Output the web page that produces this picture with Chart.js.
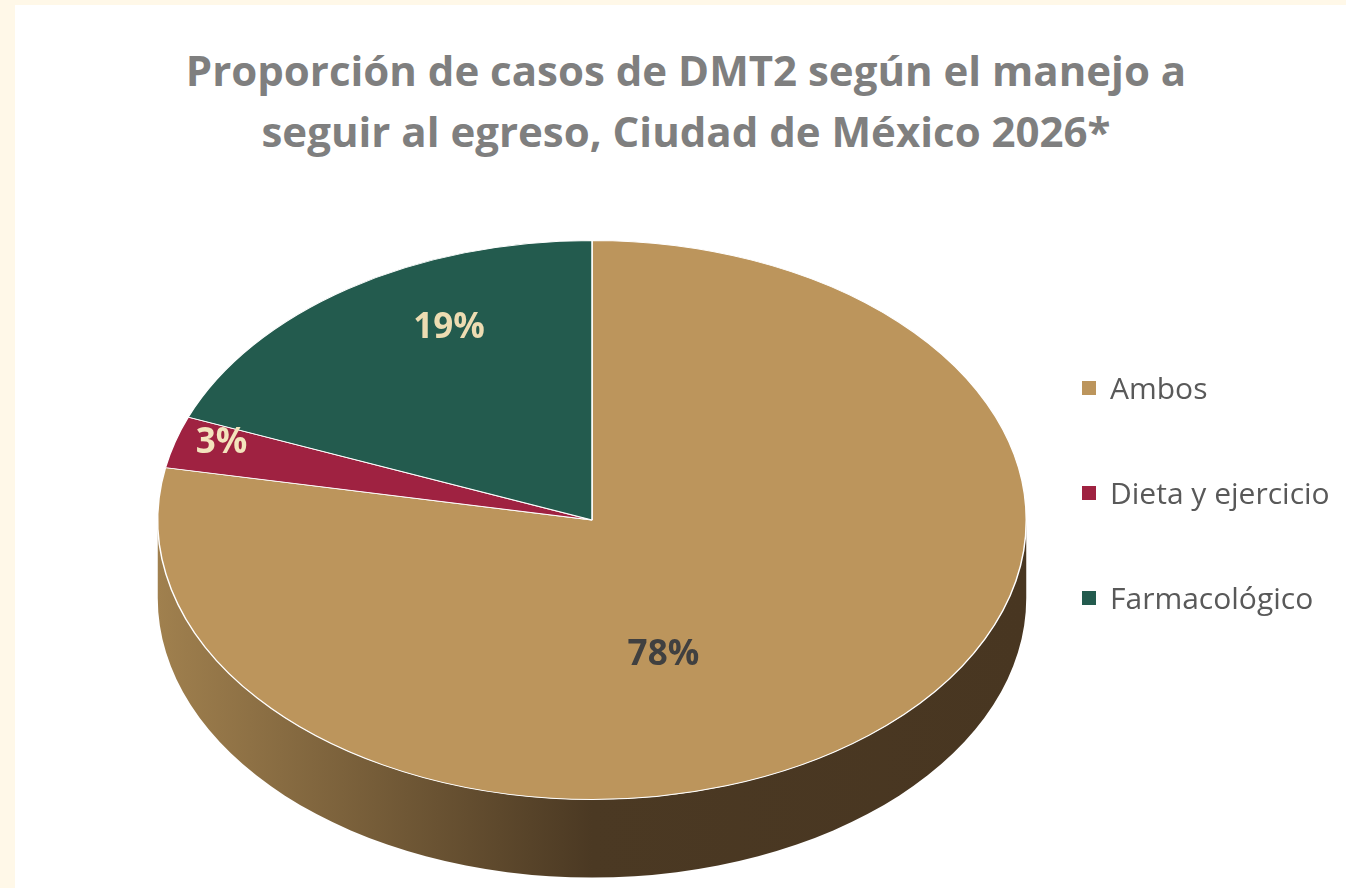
<!DOCTYPE html>
<html lang="es">
<head>
<meta charset="utf-8">
<title>Proporción de casos de DMT2</title>
<script src="https://cdn.jsdelivr.net/npm/chart.js@4/dist/chart.umd.min.js"></script>
<style>
  html, body { margin: 0; padding: 0; width: 1346px; height: 888px; overflow: hidden; background: #fff8e8; font-family: "Open Sans", Lato, sans-serif; }
  #panel { position: absolute; left: 15px; top: 5px; width: 1400px; height: 1000px; background: #fff; }
  #title { position: absolute; left: 15px; width: 1342px; top: 39px; margin: 0; text-align: center; font-weight: bold; font-size: 42px; line-height: 61px; color: #7f7f7f; }
  #pieChart { position: absolute; left: 0; top: 0; }
  #legend { position: absolute; left: 1082px; top: 365px; list-style: none; margin: 0; padding: 0; }
  #legend li { display: flex; align-items: center; height: 45px; margin-bottom: 60px; font-size: 30px; color: #595959; white-space: nowrap; }
  #legend .sw { display: inline-block; width: 14px; height: 14px; margin-right: 14px; }
</style>
</head>
<body>
<div id="panel"></div>
<h1 id="title">Proporción de casos de DMT2 según el manejo a<br>seguir al egreso, Ciudad de México 2026*</h1>
<canvas id="pieChart" width="1346" height="1120"></canvas>
<ul id="legend"></ul>
<script>
const categories = ['Ambos', 'Dieta y ejercicio', 'Farmacológico'];
const percentages = [78, 3, 19];
const sliceColors = ['#bc955c', '#9f2241', '#235b4e'];

// label look
const labelColors = ['#404040', '#f3e4bd', '#eddcb2'];
const labelRadius = [0.5, 0.85, 0.75];
const labelNudge = [[-67, 27], [-16, -11], [40, -19]];

// fake 3D: squash the pie vertically and add a side wall
const TILT = 280 / 435;
const SIDE_DEPTH = 78;

function tiltY(chart, y) {
  const top = chart.chartArea.top;
  return top + (y - top) * TILT;
}

const tiltPlugin = {
  id: 'tilt',
  beforeDatasetsDraw(chart) {
    const ctx = chart.ctx;
    const arc = chart.getDatasetMeta(0).data[0];
    const cx = arc.x, cy = tiltY(chart, arc.y);
    const rx = arc.outerRadius, ry = arc.outerRadius * TILT;

    ctx.save();
    const grad = ctx.createLinearGradient(cx - rx, 0, cx + rx, 0);
    grad.addColorStop(0, '#a0804e');
    grad.addColorStop(0.5, '#4b3923');
    grad.addColorStop(1, '#483621');
    ctx.beginPath();
    ctx.moveTo(cx - rx, cy);
    ctx.lineTo(cx - rx, cy + SIDE_DEPTH);
    ctx.ellipse(cx, cy + SIDE_DEPTH, rx, ry, 0, Math.PI, 0, true);
    ctx.lineTo(cx + rx, cy);
    ctx.ellipse(cx, cy, rx, ry, 0, 0, Math.PI, false);
    ctx.closePath();
    ctx.fillStyle = grad;
    ctx.fill();
    ctx.restore();

    const top = chart.chartArea.top;
    ctx.save();
    ctx.translate(0, top);
    ctx.scale(1, TILT);
    ctx.translate(0, -top);
  },
  afterDatasetsDraw(chart) {
    const ctx = chart.ctx;
    ctx.restore();

    const meta = chart.getDatasetMeta(0);
    const values = chart.data.datasets[0].data;
    const total = values.reduce((a, b) => a + b, 0);
    ctx.save();
    ctx.font = 'bold 35px "Open Sans", Lato, sans-serif';
    ctx.textAlign = 'center';
    ctx.textBaseline = 'middle';
    meta.data.forEach((arc, i) => {
      const mid = (arc.startAngle + arc.endAngle) / 2;
      const r = arc.outerRadius * labelRadius[i];
      const x = arc.x + Math.cos(mid) * r + labelNudge[i][0];
      const y = tiltY(chart, arc.y + Math.sin(mid) * r) + labelNudge[i][1];
      ctx.fillStyle = labelColors[i];
      ctx.fillText(Math.round(values[i] / total * 100) + '%', x, y);
    });
    ctx.restore();
  }
};

const pieCtx = document.getElementById('pieChart').getContext('2d');
const pieChart = new Chart(pieCtx, {
  type: 'pie',
  data: {
    labels: categories,
    datasets: [{
      data: percentages,
      backgroundColor: sliceColors,
      borderColor: '#ffffff',
      borderWidth: 1.5
    }]
  },
  options: {
    responsive: false,
    animation: false,
    layout: { padding: { left: 157, right: 319, top: 240, bottom: 10 } },
    plugins: {
      legend: { display: false },
      title: { display: false },
      tooltip: { enabled: false }
    }
  },
  plugins: [tiltPlugin]
});

// html legend built from the chart's own legend items
const legendEl = document.getElementById('legend');
pieChart.options.plugins.legend.labels.generateLabels(pieChart).forEach(item => {
  const li = document.createElement('li');
  const sw = document.createElement('span');
  sw.className = 'sw';
  sw.style.background = item.fillStyle;
  li.appendChild(sw);
  li.appendChild(document.createTextNode(item.text));
  legendEl.appendChild(li);
});
</script>
</body>
</html>
